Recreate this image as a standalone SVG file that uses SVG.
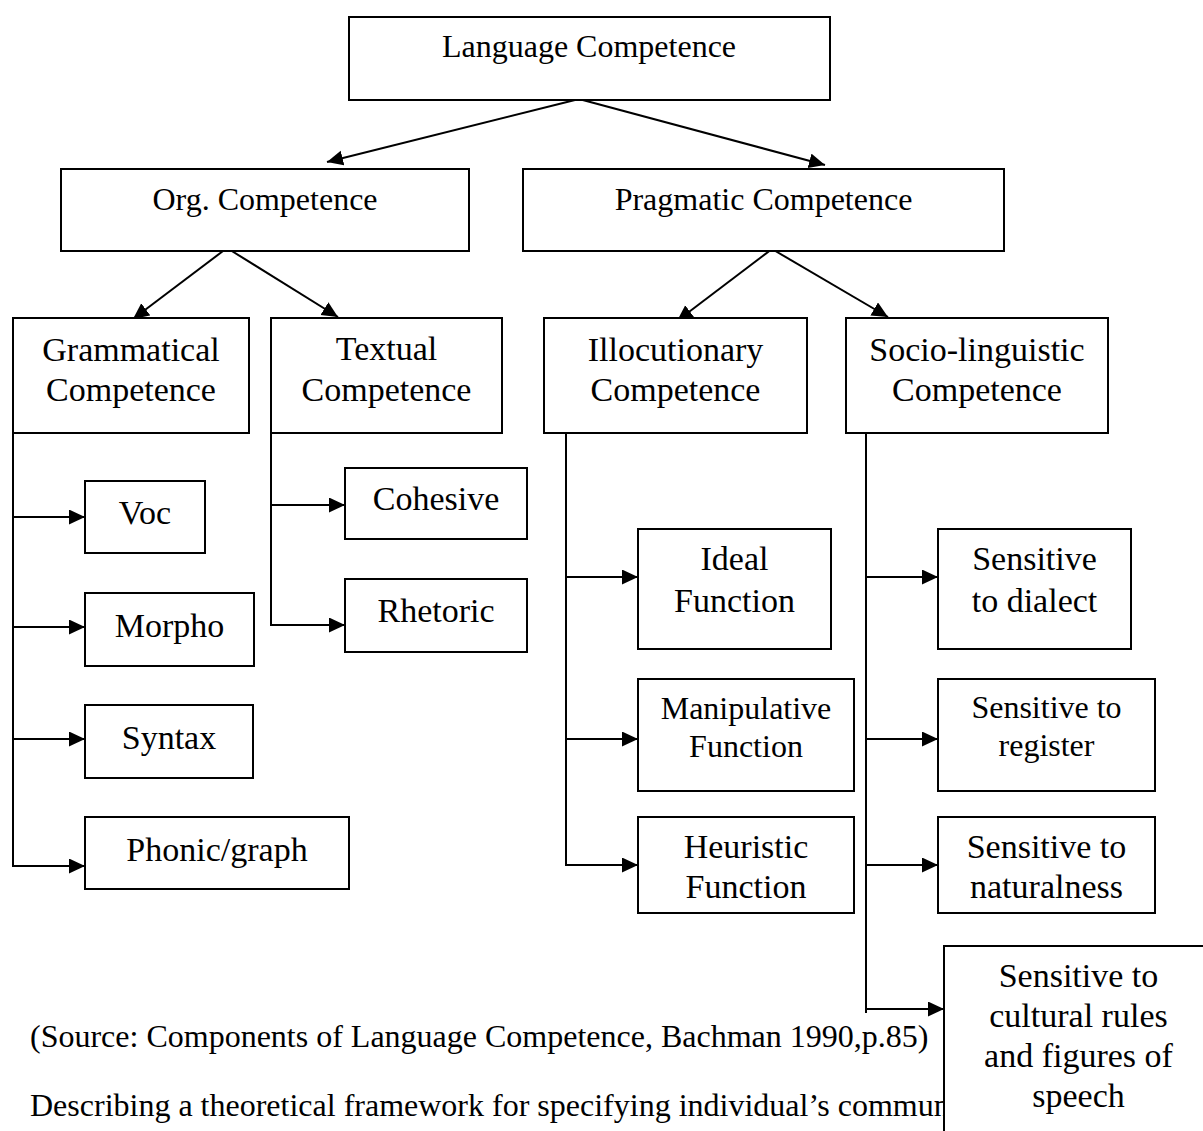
<svg xmlns="http://www.w3.org/2000/svg" width="1203" height="1131" viewBox="0 0 1203 1131">
<defs>
<style>
.box{fill:#fff;stroke:#000;stroke-width:2}
.t{font-family:"Liberation Serif","Times New Roman",serif;fill:#000;text-anchor:middle}
.s34{font-size:34px}
.s32{font-size:32px}
.c{fill:none;stroke:#000;stroke-width:2}
.plain{font-family:"Liberation Serif","Times New Roman",serif;fill:#000;font-size:32px}
</style>
<marker id="ah" markerUnits="userSpaceOnUse" markerWidth="16" markerHeight="16" refX="16" refY="7.5" orient="auto">
<path d="M0,0 L16,7.5 L0,15 z" fill="#000"/>
</marker>
</defs>
<rect width="1203" height="1131" fill="#fff"/>
<g id="caption">
<text class="plain" x="30" y="1047">(Source: Components of Language Competence, Bachman 1990,p.85)</text>
<text class="plain" x="30" y="1116">Describing a theoretical framework for specifying individual’s commun</text>
</g>
<g id="connectors">
<path class="c" d="M579,99 L327,162" marker-end="url(#ah)"/>
<path class="c" d="M579,99 L825,165" marker-end="url(#ah)"/>
<path class="c" d="M227,248 L133,319" marker-end="url(#ah)"/>
<path class="c" d="M227,248 L338,317" marker-end="url(#ah)"/>
<path class="c" d="M772,249 L677,321" marker-end="url(#ah)"/>
<path class="c" d="M772,249 L888,317" marker-end="url(#ah)"/>
<path class="c" d="M13,433 V866"/>
<path class="c" d="M13,517 H85" marker-end="url(#ah)"/>
<path class="c" d="M13,627 H85" marker-end="url(#ah)"/>
<path class="c" d="M13,739 H85" marker-end="url(#ah)"/>
<path class="c" d="M12,866 H85" marker-end="url(#ah)"/>
<path class="c" d="M271,433 V625"/>
<path class="c" d="M271,505 H345" marker-end="url(#ah)"/>
<path class="c" d="M270,625 H345" marker-end="url(#ah)"/>
<path class="c" d="M566,433 V865"/>
<path class="c" d="M566,577 H638" marker-end="url(#ah)"/>
<path class="c" d="M566,739 H638" marker-end="url(#ah)"/>
<path class="c" d="M565,865 H638" marker-end="url(#ah)"/>
<path class="c" d="M866,433 V1013"/>
<path class="c" d="M866,577 H938" marker-end="url(#ah)"/>
<path class="c" d="M866,739 H938" marker-end="url(#ah)"/>
<path class="c" d="M866,865 H938" marker-end="url(#ah)"/>
<path class="c" d="M866,1009 H944" marker-end="url(#ah)"/>
</g>
<g id="language">
<rect class="box" x="349" y="17" width="481" height="83"/>
<text class="t s32" x="589" y="57">Language Competence</text>
</g>
<g id="org">
<rect class="box" x="61" y="169" width="408" height="82"/>
<text class="t s32" x="265" y="210">Org. Competence</text>
</g>
<g id="pragmatic">
<rect class="box" x="523" y="169" width="481" height="82"/>
<text class="t s32" x="763.5" y="210">Pragmatic Competence</text>
</g>
<g id="grammatical">
<rect class="box" x="13" y="318" width="236" height="115"/>
<text class="t s34" x="131" y="361">Grammatical</text>
<text class="t s34" x="131" y="401">Competence</text>
</g>
<g id="textual">
<rect class="box" x="271" y="318" width="231" height="115"/>
<text class="t s34" x="386.5" y="360">Textual</text>
<text class="t s34" x="386.5" y="401">Competence</text>
</g>
<g id="illocutionary">
<rect class="box" x="544" y="318" width="263" height="115"/>
<text class="t s34" x="675.5" y="361">Illocutionary</text>
<text class="t s34" x="675.5" y="401">Competence</text>
</g>
<g id="socio">
<rect class="box" x="846" y="318" width="262" height="115"/>
<text class="t s34" x="977" y="361">Socio-linguistic</text>
<text class="t s34" x="977" y="401">Competence</text>
</g>
<g id="voc">
<rect class="box" x="85" y="481" width="120" height="72"/>
<text class="t s34" x="145" y="524">Voc</text>
</g>
<g id="morpho">
<rect class="box" x="85" y="593" width="169" height="73"/>
<text class="t s34" x="169.5" y="637">Morpho</text>
</g>
<g id="syntax">
<rect class="box" x="85" y="705" width="168" height="73"/>
<text class="t s34" x="169" y="749">Syntax</text>
</g>
<g id="phonic">
<rect class="box" x="85" y="817" width="264" height="72"/>
<text class="t s34" x="217" y="861">Phonic/graph</text>
</g>
<g id="cohesive">
<rect class="box" x="345" y="468" width="182" height="71"/>
<text class="t s34" x="436" y="510">Cohesive</text>
</g>
<g id="rhetoric">
<rect class="box" x="345" y="579" width="182" height="73"/>
<text class="t s34" x="436" y="622">Rhetoric</text>
</g>
<g id="ideal">
<rect class="box" x="638" y="529" width="193" height="120"/>
<text class="t s34" x="734.5" y="570">Ideal</text>
<text class="t s34" x="734.5" y="612">Function</text>
</g>
<g id="manipulative">
<rect class="box" x="638" y="679" width="216" height="112"/>
<text class="t s32" x="746" y="719">Manipulative</text>
<text class="t s32" x="746" y="757">Function</text>
</g>
<g id="heuristic">
<rect class="box" x="638" y="817" width="216" height="96"/>
<text class="t s34" x="746" y="858">Heuristic</text>
<text class="t s34" x="746" y="898">Function</text>
</g>
<g id="dialect">
<rect class="box" x="938" y="529" width="193" height="120"/>
<text class="t s34" x="1034.5" y="570">Sensitive</text>
<text class="t s34" x="1034.5" y="612">to dialect</text>
</g>
<g id="register">
<rect class="box" x="938" y="679" width="217" height="112"/>
<text class="t s32" x="1046.5" y="718">Sensitive to</text>
<text class="t s32" x="1046.5" y="756">register</text>
</g>
<g id="naturalness">
<rect class="box" x="938" y="817" width="217" height="96"/>
<text class="t s34" x="1046.5" y="858">Sensitive to</text>
<text class="t s34" x="1046.5" y="898">naturalness</text>
</g>
<g id="cultural">
<rect class="box" x="944" y="946" width="269" height="220"/>
<text class="t s34" x="1078.5" y="987">Sensitive to</text>
<text class="t s34" x="1078.5" y="1027">cultural rules</text>
<text class="t s34" x="1078.5" y="1067">and figures of</text>
<text class="t s34" x="1078.5" y="1107">speech</text>
</g>
</svg>
